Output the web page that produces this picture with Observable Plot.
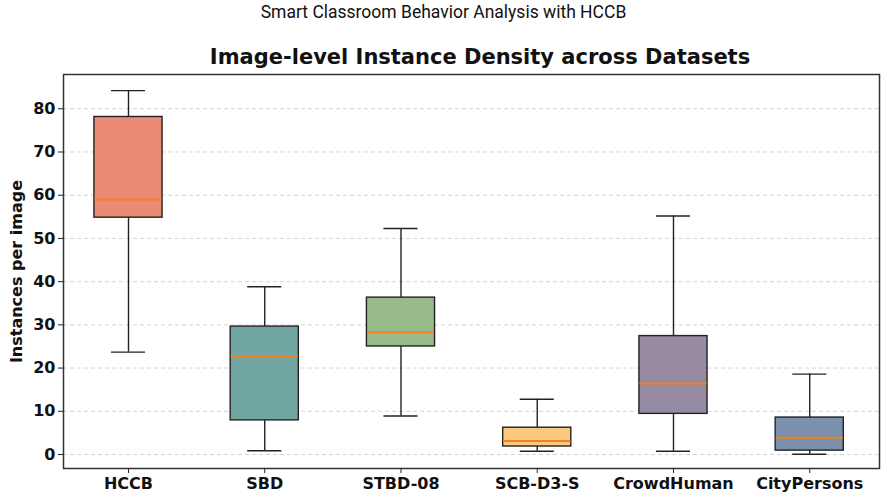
<!DOCTYPE html>
<html>
<head>
<meta charset="utf-8">
<script src="https://cdn.jsdelivr.net/npm/d3@7"></script>
<script src="https://cdn.jsdelivr.net/npm/@observablehq/plot@0.6"></script>
<style>
  html, body { margin: 0; padding: 0; background: #fff; }
  #wrap { position: relative; width: 887px; height: 501px; }
  #suptitle {
    position: absolute; left: 0; top: 2px; width: 887px; text-align: center;
    font-family: "Roboto", sans-serif; font-size: 17.5px; color: #111;
  }
  #title {
    position: absolute; left: 0; top: 45px; width: 960px; text-align: center;
    font-family: "DejaVu Sans", sans-serif; font-weight: bold; font-size: 21px; color: #111;
  }
</style>
</head>
<body>
<div id="wrap">
  <div id="chart"></div>
  <div id="suptitle">Smart Classroom Behavior Analysis with HCCB</div>
  <div id="title">Image-level Instance Density across Datasets</div>
</div>
<script>
// Per-dataset box statistics (instances per image)
const categories = ["HCCB", "SBD", "STBD-08", "SCB-D3-S", "CrowdHuman", "CityPersons"];
const whiskerLow = [23.7, 0.85, 8.9, 0.76, 0.76, 0.07];
const q1 = [54.8, 7.9, 25.0, 1.85, 9.4, 0.9];
const median = [59.0, 22.7, 28.3, 3.1, 16.4, 3.85];
const q3 = [78.1, 29.6, 36.3, 6.2, 27.4, 8.55];
const whiskerHigh = [84.2, 38.8, 52.3, 12.8, 55.2, 18.6];
const boxColors = ["#e98b77", "#72a6a3", "#98bb8b", "#fac97c", "#958aa1", "#7a90ad"];
const yTicks = [0, 10, 20, 30, 40, 50, 60, 70, 80];

const boxHalf = 0.25;
const capHalf = 0.125;
const rows = categories.map((name, i) => ({
  name,
  pos: i + 1,
  bx1: i + 1 - boxHalf,
  bx2: i + 1 + boxHalf,
  cx1: i + 1 - capHalf,
  cx2: i + 1 + capHalf,
  lo: whiskerLow[i],
  q1: q1[i],
  med: median[i],
  q3: q3[i],
  hi: whiskerHigh[i],
  color: boxColors[i]
}));

const chart = Plot.plot({
  width: 887,
  height: 501,
  marginTop: 74,
  marginBottom: 33,
  marginLeft: 63,
  marginRight: 8,
  style: { fontFamily: "DejaVu Sans, sans-serif", fontSize: "16px", fontWeight: "bold", color: "#111", background: "#fff" },
  x: { type: "linear", domain: [0.523, 6.512] },
  y: { domain: [-3.24, 87.93] },
  marks: [
    Plot.ruleY(yTicks, { stroke: "#cfcfcf", strokeWidth: 0.9, strokeDasharray: "4,3" }),
    // whiskers
    Plot.ruleX(rows, { x: "pos", y1: "lo", y2: "q1", stroke: "#222", strokeWidth: 1.4 }),
    Plot.ruleX(rows, { x: "pos", y1: "q3", y2: "hi", stroke: "#222", strokeWidth: 1.4 }),
    // caps
    Plot.ruleY(rows, { y: "lo", x1: "cx1", x2: "cx2", stroke: "#222", strokeWidth: 1.4 }),
    Plot.ruleY(rows, { y: "hi", x1: "cx1", x2: "cx2", stroke: "#222", strokeWidth: 1.4 }),
    // boxes
    Plot.rect(rows, { x1: "bx1", x2: "bx2", y1: "q1", y2: "q3", fill: "color", stroke: "#222", strokeWidth: 1.4 }),
    // medians
    Plot.ruleY(rows, { y: "med", x1: (d) => d.bx1 + 0.004, x2: (d) => d.bx2 - 0.004, stroke: "#f5801f", strokeWidth: 2 }),
    Plot.frame({ stroke: "#333", strokeWidth: 1.5 }),
    Plot.axisY({ ticks: yTicks, tickSize: 5, tickPadding: 3, label: "Instances per image", labelAnchor: "center", labelArrow: "none", labelOffset: 53, stroke: "#222" }),
    Plot.axisX({ ticks: rows.map((d) => d.pos), tickFormat: (p) => categories[p - 1], tickSize: 5, tickPadding: 4, label: null, stroke: "#222" })
  ]
});
document.getElementById("chart").appendChild(chart);
</script>
</body>
</html>
